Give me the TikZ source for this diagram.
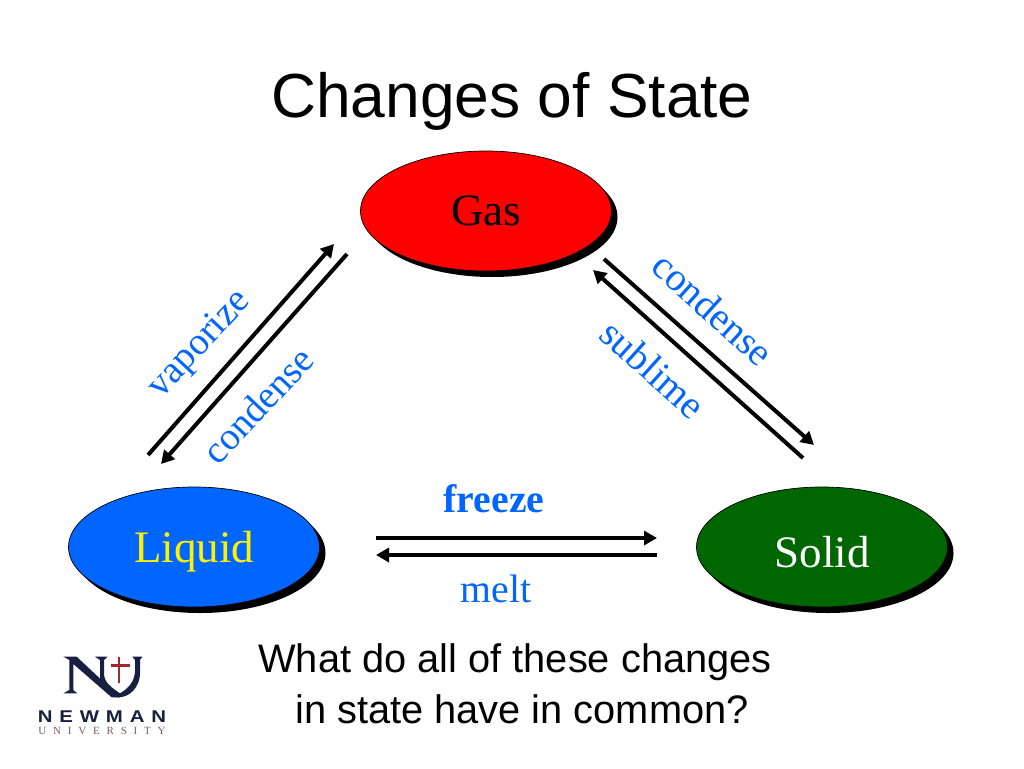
\documentclass[tikz,border=0pt]{standalone}
\usepackage{fontspec}
\setmainfont{Liberation Serif}
\newfontfamily\arialf{Liberation Sans}
\newfontfamily\newmanf[LetterSpace=40,FakeStretch=1.2]{Liberation Sans}
\newfontfamily\univf[LetterSpace=62]{Liberation Serif}
\usetikzlibrary{arrows.meta,shapes.geometric}
\definecolor{labelblue}{RGB}{0,102,255}
\definecolor{liquidblue}{RGB}{0,102,255}
\definecolor{solidgreen}{RGB}{0,102,0}
\definecolor{navy}{RGB}{24,32,66}
\definecolor{crossred}{RGB}{160,40,50}
\definecolor{univred}{RGB}{130,90,95}
\tikzset{
  x=1pt,y=-1pt,
  stateshape/.style={ellipse,draw=black,line width=0.7pt,minimum width=251pt,minimum height=120pt,inner sep=0pt,outer sep=0pt},
  shadowshape/.style={ellipse,fill=black,minimum width=251pt,minimum height=120pt,inner sep=0pt,outer sep=0pt},
  statelabel/.style={inner sep=0pt,font=\fontsize{45}{45}\selectfont},
  flow/.style={line width=4pt,-{Triangle[length=13pt,width=14pt]}},
  changelabel/.style={text=labelblue,font=\fontsize{39.7}{39.7}\selectfont,inner sep=0pt},
  leftlabel/.style={text=labelblue,font=\fontsize{38.5}{38.5}\selectfont,inner sep=0pt},
  sanslabel/.style={font=\arialf,text=black,inner sep=0pt}
}
\begin{document}
\begin{tikzpicture}
\useasboundingbox (0,0) rectangle (1024,768);
\fill[white] (0,0) rectangle (1024,768);

\node[sanslabel,font=\arialf\fontsize{62.3}{62.3}\selectfont] (title) at (512,101) {Changes of State};

\node[shadowshape] (gasshadow) at (492,217) {};
\node[shadowshape] (liquidshadow) at (200,553) {};
\node[shadowshape] (solidshadow) at (828,553) {};
\node[stateshape,fill=red] (gas) at (486,211) {};
\node[stateshape,fill=liquidblue] (liquid) at (194,547) {};
\node[stateshape,fill=solidgreen] (solid) at (822,547) {};
\node[statelabel,text=black] (gaslabel) at (486,211) {Gas};
\node[statelabel,text=yellow] (liquidlabel) at (194,552) {Liquid};
\node[statelabel,text=white] (solidlabel) at (822,552) {Solid};

\coordinate (a1) at (148,455); \coordinate (a2) at (334,244);
\coordinate (b1) at (347,254); \coordinate (b2) at (161,464);
\coordinate (c1) at (604,259); \coordinate (c2) at (814,445);
\coordinate (d1) at (803,458); \coordinate (d2) at (593,270);
\coordinate (e1) at (376,538); \coordinate (e2) at (657,538);
\coordinate (f1) at (657,555); \coordinate (f2) at (376,555);
\draw[flow] (a1) -- (a2);
\draw[flow] (b1) -- (b2);
\draw[flow] (c1) -- (c2);
\draw[flow] (d1) -- (d2);
\draw[flow] (e1) -- (e2);
\draw[flow] (f1) -- (f2);

\node[leftlabel,rotate=47] (vap) at (200,345) {vaporize};
\node[leftlabel,rotate=47] (con1) at (258,405) {condense};
\node[changelabel,rotate=-42] (con2) at (713,309) {condense};
\node[changelabel,rotate=-42] (sub) at (653,369) {sublime};
\node[changelabel,font=\bfseries\fontsize{39.7}{39.7}\selectfont] (frz) at (494,499) {freeze};
\node[changelabel] (mlt) at (496,589) {melt};

\node[sanslabel,font=\arialf\fontsize{39.8}{39.8}\selectfont] (q1) at (515,662) {What do all of these changes};
\node[sanslabel,font=\arialf\fontsize{39.8}{39.8}\selectfont] (q2) at (522,709) {in state have in common?};

\begin{scope}[shift={(20,640)},scale=1/3]
  % N
  \fill[navy] (130,50) -- (170,50) -- (300,172) -- (275,172) -- (160,72) -- (160,150) -- (172,160) -- (130,160) -- (148,150) -- (148,60) -- cycle;
  % U
  \fill[navy] (225,50) -- (262,50) -- (252,60) -- (252,100) .. controls (252,125) and (270,140) .. (300,160) .. controls (325,145) and (345,125) .. (345,90) -- (345,60) -- (337,50) -- (367,50) -- (360,60) -- (360,100) .. controls (360,140) and (330,172) .. (295,172) .. controls (265,172) and (240,140) .. (240,110) -- (240,60) -- cycle;
  % cross
  \fill[crossred] (293,50) rectangle (301,130);
  \fill[crossred] (273,72) rectangle (329,81);
\end{scope}
\node[inner sep=0pt,text=navy,font=\newmanf\bfseries\fontsize{17}{17}\selectfont] (newman) at (102,717) {NEWMAN};
\node[inner sep=0pt,text=univred,font=\univf\fontsize{11}{11}\selectfont] (univ) at (102,731) {UNIVERSITY};
\end{tikzpicture}
\end{document}
